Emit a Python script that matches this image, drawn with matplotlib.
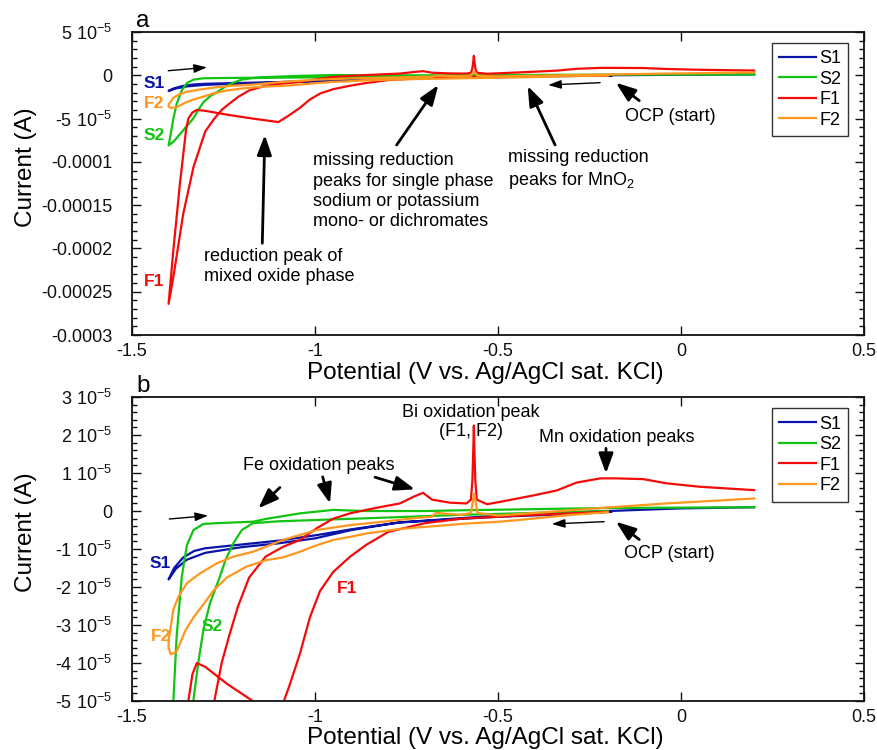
import matplotlib
matplotlib.use('Agg')
import matplotlib.pyplot as plt
from matplotlib.ticker import FixedLocator, FixedFormatter, MultipleLocator, NullLocator

plt.rcParams['font.family'] = ['Liberation Sans', 'DejaVu Sans']
plt.rcParams['mathtext.fontset'] = 'custom'
plt.rcParams['mathtext.rm'] = 'Liberation Sans'
plt.rcParams['mathtext.it'] = 'Liberation Sans:italic'
plt.rcParams['mathtext.bf'] = 'Liberation Sans:bold'
plt.rcParams['mathtext.default'] = 'regular'
plt.rcParams['axes.unicode_minus'] = False

# ---------------- data (current in units of 1e-5 A) ----------------
SCALE = 1e-5

samples = ['S1', 'S2', 'F1', 'F2']
colors = {'S1': '#0a14a8', 'S2': '#12c412', 'F1': '#f50a0a', 'F2': '#ff961e'}

# cathodic sweep: OCP -> -1.4 V
S1_cat_V = [-0.19, -0.30, -0.50, -0.77, -0.90, -1.00, -1.10, -1.20, -1.30, -1.35, -1.38, -1.40]
S1_cat_I = [-0.02, -0.08, -0.15, -0.30, -0.50, -0.72, -0.85, -0.95, -1.10, -1.28, -1.52, -1.80]
# anodic sweep: -1.4 V -> +0.2 V
S1_an_V = [-1.40, -1.385, -1.36, -1.33, -1.30, -1.20, -1.10, -1.00, -0.90, -0.77, -0.50, -0.20, 0.00, 0.20]
S1_an_I = [-1.80, -1.50, -1.22, -1.05, -0.98, -0.88, -0.78, -0.64, -0.48, -0.30, -0.12, 0.00, 0.07, 0.10]

S2_cat_V = [-0.20, -0.40, -0.60, -0.80, -0.95, -1.10, -1.17, -1.20, -1.223, -1.245, -1.26, -1.287,
            -1.305, -1.319, -1.332, -1.345, -1.369, -1.385, -1.40]
S2_cat_I = [0.00, -0.05, -0.10, -0.17, -0.22, -0.27, -0.32, -0.50, -0.85, -1.30, -1.73, -2.43,
            -3.13, -4.00, -4.97, -5.60, -6.80, -7.60, -8.10]
S2_an_V = [-1.40, -1.395, -1.387, -1.378, -1.364, -1.35, -1.332, -1.305, -1.269, -1.17, -1.13, -1.04,
           -0.95, -0.86, -0.70, -0.60, -0.40, -0.20, 0.20]
S2_an_I = [-8.10, -7.00, -5.00, -3.30, -1.73, -0.90, -0.50, -0.34, -0.32, -0.28, -0.20, -0.06,
           0.03, 0.00, 0.00, 0.02, 0.05, 0.08, 0.10]

F1_cat_V = [-0.20, -0.40, -0.60, -0.70, -0.80, -0.86, -0.904, -0.95, -0.986, -1.014, -1.041, -1.07,
            -1.10, -1.17, -1.24, -1.30, -1.323, -1.335, -1.346, -1.352, -1.369, -1.387, -1.40]
F1_cat_I = [-0.02, -0.10, -0.20, -0.32, -0.55, -0.89, -1.20, -1.60, -2.10, -2.80, -3.75, -4.60,
            -5.40, -5.00, -4.55, -4.10, -4.00, -4.30, -5.00, -6.20, -12.5, -20.2, -26.4]
F1_an_V = [-1.40, -1.387, -1.36, -1.332, -1.30, -1.275, -1.255, -1.235, -1.21, -1.18, -1.135, -1.087,
           -1.041, -0.995, -0.95, -0.904, -0.86, -0.813, -0.768, -0.73, -0.705, -0.68, -0.631, -0.586,
           -0.574, -0.570, -0.567, -0.566, -0.565, -0.562, -0.558, -0.53, -0.495, -0.404, -0.34, -0.285,
           -0.22, -0.178, -0.103, -0.04, 0.05, 0.20]
F1_an_I = [-26.4, -23.3, -16.0, -10.6, -6.5, -5.0, -4.0, -3.3, -2.5, -1.75, -1.2, -0.94,
           -0.76, -0.45, -0.2, -0.06, 0.03, 0.12, 0.20, 0.38, 0.48, 0.30, 0.22, 0.20,
           0.30, 0.80, 1.80, 2.25, 1.80, 0.80, 0.30, 0.18, 0.24, 0.41, 0.54, 0.75,
           0.86, 0.86, 0.84, 0.73, 0.64, 0.55]

F2_cat_V = [-0.20, -0.30, -0.404, -0.495, -0.586, -0.677, -0.768, -0.859, -0.904, -0.95, -0.995,
            -1.041, -1.087, -1.132, -1.187, -1.241, -1.278, -1.305, -1.332, -1.355, -1.378, -1.394]
F2_cat_I = [-0.03, -0.10, -0.20, -0.28, -0.33, -0.40, -0.47, -0.59, -0.68, -0.76, -0.90,
            -1.07, -1.22, -1.29, -1.46, -1.75, -2.10, -2.46, -2.80, -3.16, -3.70, -3.77]
F2_an_V = [-1.40, -1.40, -1.387, -1.373, -1.35, -1.314, -1.269, -1.223, -1.169, -1.087, -0.995,
           -0.904, -0.813, -0.72, -0.68, -0.67, -0.60, -0.574, -0.565, -0.556, -0.50, -0.40,
           -0.22, -0.04, 0.20]
F2_an_I = [-3.60, -3.40, -2.60, -2.25, -1.90, -1.64, -1.38, -1.20, -1.07, -0.76, -0.50,
           -0.37, -0.28, -0.18, -0.15, -0.05, -0.10, -0.05, 0.46, -0.05, -0.12, -0.05,
           0.08, 0.20, 0.33]

curves = {
    'S1': (S1_cat_V + S1_an_V, S1_cat_I + S1_an_I),
    'S2': (S2_cat_V + S2_an_V, S2_cat_I + S2_an_I),
    'F1': (F1_cat_V + F1_an_V, F1_cat_I + F1_an_I),
    'F2': (F2_cat_V + F2_an_V, F2_cat_I + F2_an_I),
}

x_ticks = [-1.5, -1.0, -0.5, 0.0, 0.5]
x_tick_labels = ['-1.5', '-1', '-0.5', '0', '0.5']

a_y_ticks = [5e-5, 0, -5e-5, -1e-4, -1.5e-4, -2e-4, -2.5e-4, -3e-4]
a_y_tick_labels = ['5 10$^{-5}$', '0', '-5 10$^{-5}$', '-0.0001', '-0.00015', '-0.0002', '-0.00025', '-0.0003']
b_y_ticks = [3e-5, 2e-5, 1e-5, 0, -1e-5, -2e-5, -3e-5, -4e-5, -5e-5]
b_y_tick_labels = ['3 10$^{-5}$', '2 10$^{-5}$', '1 10$^{-5}$', '0', '-1 10$^{-5}$', '-2 10$^{-5}$',
                   '-3 10$^{-5}$', '-4 10$^{-5}$', '-5 10$^{-5}$']

XLABEL = 'Potential (V vs. Ag/AgCl sat. KCl)'
YLABEL = 'Current (A)'

TXT = 13
fig = plt.figure(figsize=(8.77, 7.5), dpi=100)
axa = fig.add_axes([0.1505, 0.5533, 0.8347, 0.404])
axb = fig.add_axes([0.1505, 0.0653, 0.8347, 0.4053])


def setup(ax, ylim, yticks, ylabels, yminor, legend_y, xlabel_y, ylabel_y, letter):
    for s in samples:
        V, I = curves[s]
        ax.plot(V, [i * SCALE for i in I], color=colors[s], lw=1.6, label=s)
    ax.set_xlim(-1.5, 0.5)
    ax.set_ylim(*ylim)
    ax.xaxis.set_major_locator(FixedLocator(x_ticks))
    ax.xaxis.set_major_formatter(FixedFormatter(x_tick_labels))
    ax.xaxis.set_minor_locator(NullLocator())
    ax.yaxis.set_major_locator(FixedLocator(yticks))
    ax.yaxis.set_major_formatter(FixedFormatter(ylabels))
    ax.yaxis.set_minor_locator(MultipleLocator(yminor))
    ax.tick_params(which='both', direction='in', top=True, right=True, width=1.0, colors='#111111')
    ax.tick_params(which='major', length=6.5, labelsize=TXT)
    ax.tick_params(axis='y', which='major', pad=14)
    ax.tick_params(axis='x', which='major', pad=6)
    ax.tick_params(which='minor', length=3.5)
    for sp in ax.spines.values():
        sp.set_linewidth(1.3)
        sp.set_color('#111111')
    ax.set_xlabel(XLABEL, fontsize=17.5)
    ax.set_ylabel(YLABEL, fontsize=17.5)
    ax.xaxis.set_label_coords(0.482, xlabel_y)
    ax.yaxis.set_label_coords(-0.130, ylabel_y)
    leg = ax.legend(loc='upper right', bbox_to_anchor=(0.9786, legend_y), borderaxespad=0,
                    fontsize=13, handlelength=2.03, handletextpad=0.2, labelspacing=0.2,
                    borderpad=0.4, frameon=True, fancybox=False, framealpha=1)
    leg.get_frame().set_edgecolor('#333333')
    leg.get_frame().set_linewidth(1.0)
    ax.text(0.0055, 1.0165, letter, transform=ax.transAxes, fontsize=17.5, va='baseline', ha='left')


setup(axa, (-3e-4, 5e-5), a_y_ticks, a_y_tick_labels, 1e-5, 0.9647, -0.090, 0.554, 'a')
setup(axb, (-5e-5, 3e-5), b_y_ticks, b_y_tick_labels, 0.2e-5, 0.9628, -0.087, 0.557, 'b')

thick = dict(arrowstyle='-|>,head_length=0.6,head_width=0.22', lw=2.0, color='black', mutation_scale=20,
             shrinkA=0, shrinkB=0)
thin = dict(arrowstyle='-|>,head_length=0.6,head_width=0.2', lw=1.0, color='black', mutation_scale=13,
            shrinkA=0, shrinkB=0)


def arrow(ax, tail, tip, style):
    ax.annotate('', xy=(tip[0], tip[1] * SCALE), xytext=(tail[0], tail[1] * SCALE), arrowprops=style)


def label(ax, v, i, s):
    ax.text(v, i * SCALE, s, color=colors[s], fontsize=12.5, fontweight='bold', ha='center', va='center')


# ---- panel a annotations ----
arrow(axa, (-1.401, 0.53), (-1.295, 0.92), thin)
arrow(axa, (-0.221, -0.85), (-0.363, -1.12), thin)
arrow(axa, (-1.144, -19.4), (-1.137, -6.9), thick)
arrow(axa, (-0.777, -8.05), (-0.663, -1.12), thick)
arrow(axa, (-0.344, -8.05), (-0.419, -1.24), thick)
arrow(axa, (-0.114, -2.93), (-0.178, -0.85), thick)
axa.text(-1.303, -22.1 * SCALE, 'reduction peak of\nmixed oxide phase', fontsize=TXT, ha='left', va='center',
         linespacing=1.25)
axa.text(-1.006, -13.4 * SCALE, 'missing reduction\npeaks for single phase\nsodium or potassium\nmono- or dichromates',
         fontsize=TXT, ha='left', va='center', linespacing=1.25)
axa.text(-0.474, -10.9 * SCALE, 'missing reduction\npeaks for MnO$_2$', fontsize=TXT, ha='left', va='center',
         linespacing=1.25)
axa.text(-0.030, -4.8 * SCALE, 'OCP (start)', fontsize=TXT, ha='center', va='center')
label(axa, -1.439, -0.93, 'S1')
label(axa, -1.439, -3.24, 'F2')
label(axa, -1.439, -6.9, 'S2')
label(axa, -1.439, -23.8, 'F1')

# ---- panel b annotations ----
arrow(axb, (-1.398, -0.21), (-1.292, -0.12), thin)
arrow(axb, (-0.210, -0.28), (-0.353, -0.34), thin)
arrow(axb, (-1.096, 0.62), (-1.155, 0.07), thick)
arrow(axb, (-0.979, 0.90), (-0.959, 0.20), thick)
arrow(axb, (-0.836, 0.89), (-0.727, 0.57), thick)
arrow(axb, (-0.205, 1.65), (-0.205, 0.99), thick)
arrow(axb, (-0.114, -0.75), (-0.178, -0.28), thick)
axb.text(-0.989, 1.21 * SCALE, 'Fe oxidation peaks', fontsize=TXT, ha='center', va='center')
axb.text(-0.574, 2.34 * SCALE, 'Bi oxidation peak\n(F1, F2)', fontsize=TXT, ha='center', va='center',
         linespacing=1.15, zorder=1)
axb.text(-0.176, 1.93 * SCALE, 'Mn oxidation peaks', fontsize=TXT, ha='center', va='center')
axb.text(-0.031, -1.11 * SCALE, 'OCP (start)', fontsize=TXT, ha='center', va='center')
label(axb, -1.424, -1.38, 'S1')
label(axb, -1.421, -3.31, 'F2')
label(axb, -1.281, -3.04, 'S2')
label(axb, -0.913, -2.04, 'F1')

fig.savefig('out.png', dpi=100)
